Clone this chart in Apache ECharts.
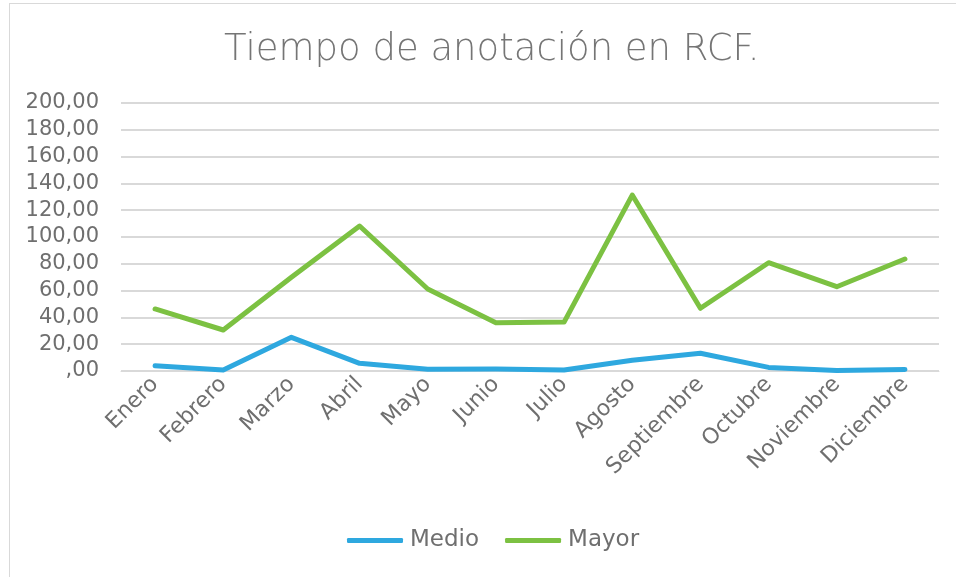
<!DOCTYPE html>
<html>
<head>
<meta charset="utf-8">
<script src="https://cdn.jsdelivr.net/npm/echarts@6/dist/echarts.min.js"></script>
<style>
  html, body { margin: 0; padding: 0; background: #fff; }
  #frame { position: absolute; left: 9px; top: 3px; width: 960px; height: 600px; border: 1px solid #d9d9d9; }
  #chart { position: absolute; left: 0; top: 0; width: 956px; height: 577px; }
</style>
</head>
<body>
<div id="frame"></div>
<div id="chart"></div>
<script>
// datos
const months = ['Enero', 'Febrero', 'Marzo', 'Abril', 'Mayo', 'Junio', 'Julio',
  'Agosto', 'Septiembre', 'Octubre', 'Noviembre', 'Diciembre'];
const medio = [4.0, 0.7, 25.1, 5.7, 1.3, 1.5, 0.7, 8.0, 13.2, 2.7, 0.3, 1.2];
const mayor = [46.3, 30.6, 70.0, 108.2, 61.2, 36.0, 36.5, 131.3, 46.8, 80.8, 62.9, 83.6];
const yTickLabels = [',00', '20,00', '40,00', '60,00', '80,00', '100,00',
  '120,00', '140,00', '160,00', '180,00', '200,00'];

const font = 'DejaVu Sans';
const chart = echarts.init(document.getElementById('chart'));

chart.setOption({
  animation: false,
  title: {
    text: 'Tiempo de anotación en RCF.',
    left: 219,
    top: 27,
    textStyle: { fontFamily: '"DejaVu Sans ExtraLight", "DejaVu Sans"', fontSize: 37, fontWeight: 200, color: '#757575' }
  },
  legend: {
    bottom: 20,
    left: 342,
    itemWidth: 56,
    itemHeight: 5,
    itemGap: 26,
    icon: 'roundRect',
    textStyle: { fontFamily: font, fontSize: 23, color: '#6f6f6f', padding: [0, 0, 0, 2] },
    data: ['Medio', 'Mayor']
  },
  grid: { left: 121, right: 17, top: 103, bottom: 206 },
  xAxis: {
    type: 'category',
    data: months,
    boundaryGap: true,
    axisLine: { lineStyle: { color: '#d9d9d9', width: 1 } },
    axisTick: { show: false },
    axisLabel: { rotate: 45, fontFamily: font, fontSize: 22, color: '#6f6f6f', margin: 10, interval: 0 }
  },
  yAxis: {
    type: 'value',
    min: 0,
    max: 200,
    interval: 20,
    axisLine: { show: false },
    axisTick: { show: false },
    splitLine: { lineStyle: { color: '#d9d9d9', width: 2 } },
    axisLabel: {
      fontFamily: font, fontSize: 21, color: '#6f6f6f', margin: 22,
      formatter: (v) => yTickLabels[Math.round(v / 20)]
    }
  },
  series: [
    {
      name: 'Medio', type: 'line', data: medio,
      symbol: 'none',
      itemStyle: { color: '#2ea8df' },
      lineStyle: { width: 5, color: '#2ea8df', cap: 'round', join: 'round' }
    },
    {
      name: 'Mayor', type: 'line', data: mayor,
      symbol: 'none',
      itemStyle: { color: '#7cc142' },
      lineStyle: { width: 5, color: '#7cc142', cap: 'round', join: 'round' }
    }
  ]
});
</script>
</body>
</html>
